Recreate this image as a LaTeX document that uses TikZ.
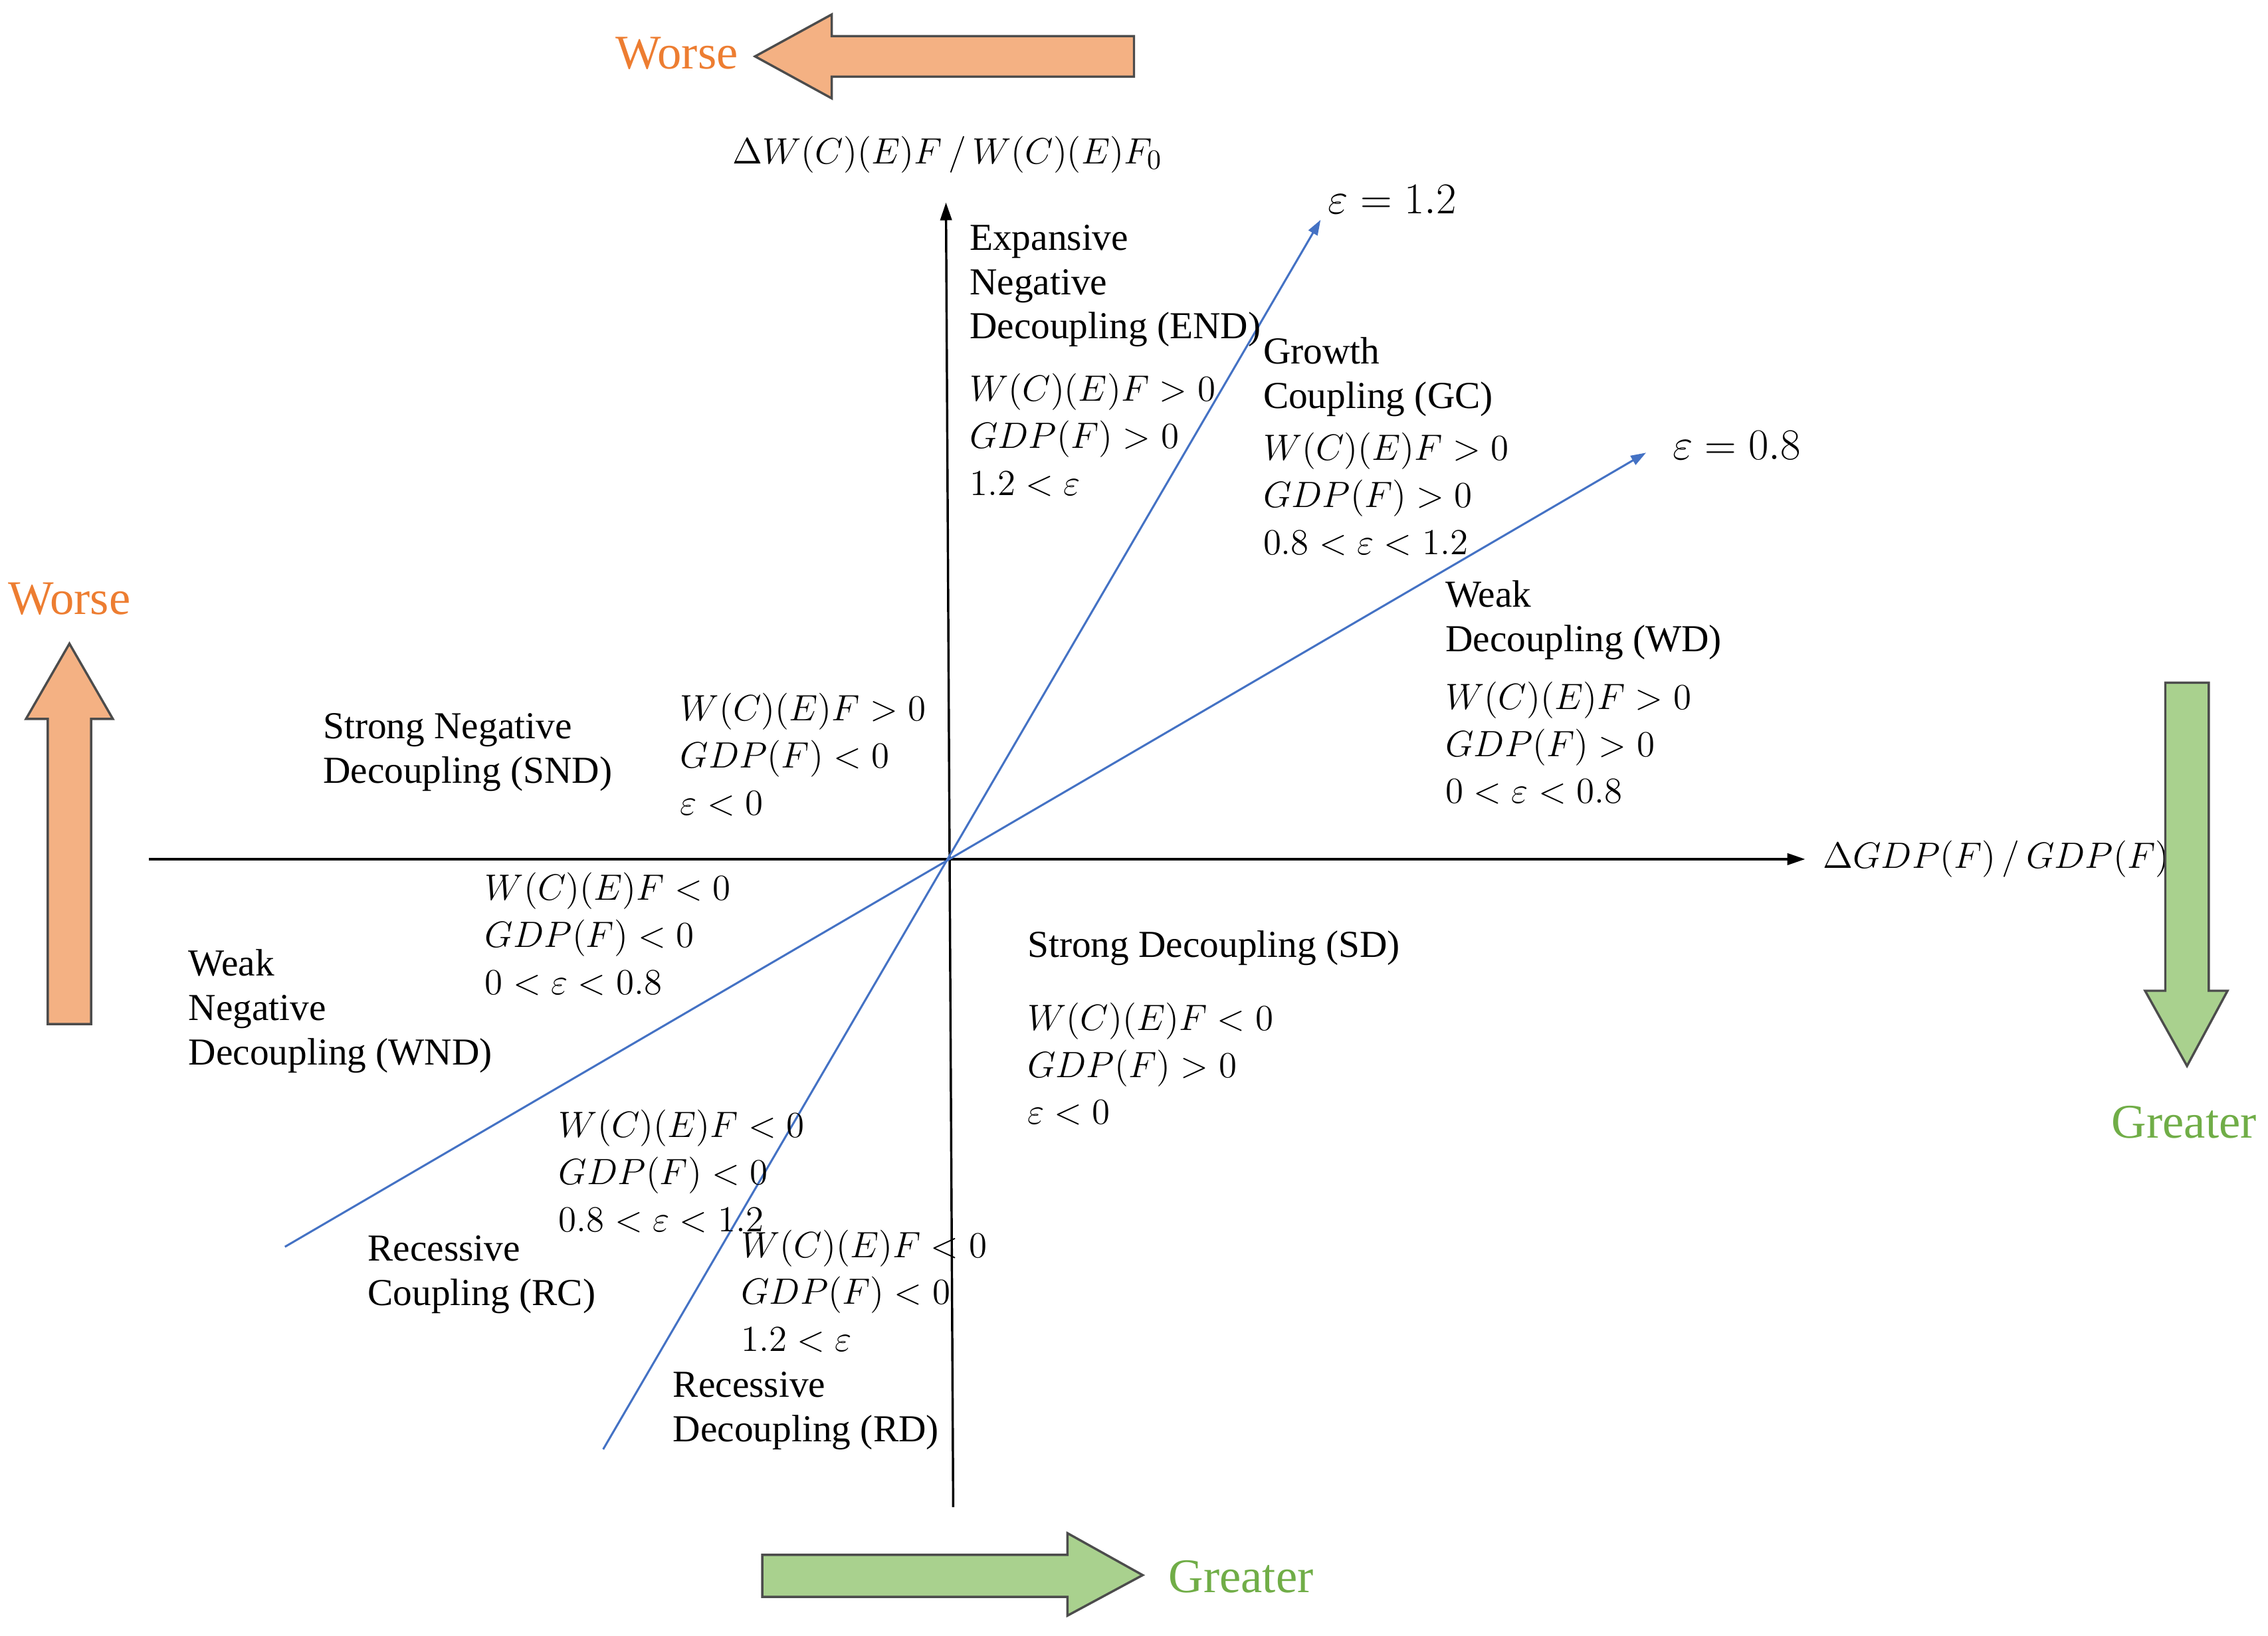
\documentclass[tikz,border=0pt]{standalone}
\usepackage{fontspec}
\setmainfont{Liberation Serif}
\usetikzlibrary{arrows.meta,positioning}
\definecolor{worse}{HTML}{ED7D31}
\definecolor{worsefill}{HTML}{F4B183}
\definecolor{greater}{HTML}{70AD47}
\definecolor{greaterfill}{HTML}{A9D18E}
\definecolor{ray}{HTML}{4472C4}
\tikzset{
  regname/.style={anchor=north west, inner sep=0pt, align=left, font=\fontsize{15}{17.5}\selectfont},
  cond/.style={anchor=north west, inner sep=0pt, align=left, font=\fontsize{15}{18.5}\selectfont},
  big/.style={font=\fontsize{19}{22}\selectfont},
  blockarrow/.style={draw=black!70, line width=0.9pt},
  axis/.style={line width=0.9pt, -{Triangle[length=7pt,width=4.5pt]}},
  rayline/.style={ray, line width=0.8pt, -{Triangle[length=6pt,width=4pt]}}
}
\begin{document}
\begin{tikzpicture}[x=0.02cm,y=-0.02cm]
    \useasboundingbox (0,0) rectangle (1568,1131);

    % axes
    \coordinate (o) at (655,594);
    \coordinate (xl) at (103,594); \coordinate (xr) at (1248,594);
    \coordinate (yb) at (659,1042); \coordinate (yt) at (654,140);
    \draw[axis] (xl) -- (xr);
    \draw[axis] (yb) -- (yt);
    \node[anchor=west, inner sep=0pt, font=\fontsize{15}{17}\selectfont] (xlab) at (1260,594) {$\Delta GDP(F)\,/\,GDP(F)_0$};
    \node[inner sep=0pt, font=\fontsize{15}{17}\selectfont] (ylab) at (655,107) {$\Delta W(C)(E)F\,/\,W(C)(E)F_0$};

    % rays
    \coordinate (r1a) at (417,1002); \coordinate (r1b) at (913,152);
    \coordinate (r2a) at (197,862);  \coordinate (r2b) at (1138,313);
    \draw[rayline] (r1a) -- (r1b);
    \draw[rayline] (r2a) -- (r2b);
    \node[anchor=west, inner sep=0pt, font=\fontsize{16}{18}\selectfont] (e12) at (918,138) {$\varepsilon = 1.2$};
    \node[anchor=west, inner sep=0pt, font=\fontsize{16}{18}\selectfont] (e08) at (1156,308) {$\varepsilon = 0.8$};

    % regions
    \node[regname] (end) at (670,155) {Expansive\\Negative\\Decoupling (END)};
    \node[cond] (endc) at (670,258) {$W(C)(E)F>0$\\$GDP(F)>0$\\$1.2<\varepsilon$};
    \node[regname] (gc) at (873,233) {Growth\\Coupling (GC)};
    \node[cond] (gcc) at (873,299) {$W(C)(E)F>0$\\$GDP(F)>0$\\$0.8<\varepsilon<1.2$};
    \node[regname] (wd) at (999,401) {Weak\\Decoupling (WD)};
    \node[cond] (wdc) at (999,471) {$W(C)(E)F>0$\\$GDP(F)>0$\\$0<\varepsilon<0.8$};
    \node[regname] (snd) at (223,493) {Strong Negative\\Decoupling (SND)};
    \node[cond] (sndc) at (470,479) {$W(C)(E)F>0$\\$GDP(F)<0$\\$\varepsilon<0$};
    \node[cond] (wndc) at (335,603) {$W(C)(E)F<0$\\$GDP(F)<0$\\$0<\varepsilon<0.8$};
    \node[regname] (wnd) at (130,656) {Weak\\Negative\\Decoupling (WND)};
    \node[cond] (rcc) at (386,767) {$W(C)(E)F<0$\\$GDP(F)<0$\\$0.8<\varepsilon<1.2$};
    \node[regname] (rc) at (254,854) {Recessive\\Coupling (RC)};
    \node[cond] (rdc) at (512,850) {$W(C)(E)F<0$\\$GDP(F)<0$\\$1.2<\varepsilon$};
    \node[regname] (rd) at (465,948) {Recessive\\Decoupling (RD)};
    \node[regname] (sd) at (710,643) {Strong Decoupling (SD)};
    \node[cond] (sdc) at (710,693) {$W(C)(E)F<0$\\$GDP(F)>0$\\$\varepsilon<0$};

    % block arrows
    \draw[blockarrow, fill=worsefill] (784,25) -- (575,25) -- (575,10) -- (522,39) -- (575,68) -- (575,53) -- (784,53) -- cycle;
    \node[big, worse] (worsetop) at (468,37) {Worse};
    \draw[blockarrow, fill=worsefill] (33,708) -- (33,497) -- (18,497) -- (48,445) -- (78,497) -- (63,497) -- (63,708) -- cycle;
    \node[big, worse] (worseleft) at (48,414) {Worse};
    \draw[blockarrow, fill=greaterfill] (1497,472) -- (1527,472) -- (1527,685) -- (1540,685) -- (1512,737) -- (1483,685) -- (1497,685) -- cycle;
    \node[big, greater] (greaterright) at (1510,776) {Greater};
    \draw[blockarrow, fill=greaterfill] (527,1075) -- (738,1075) -- (738,1060) -- (790,1089) -- (738,1117) -- (738,1104) -- (527,1104) -- cycle;
    \node[big, greater] (greaterbottom) at (858,1090) {Greater};
\end{tikzpicture}
\end{document}
